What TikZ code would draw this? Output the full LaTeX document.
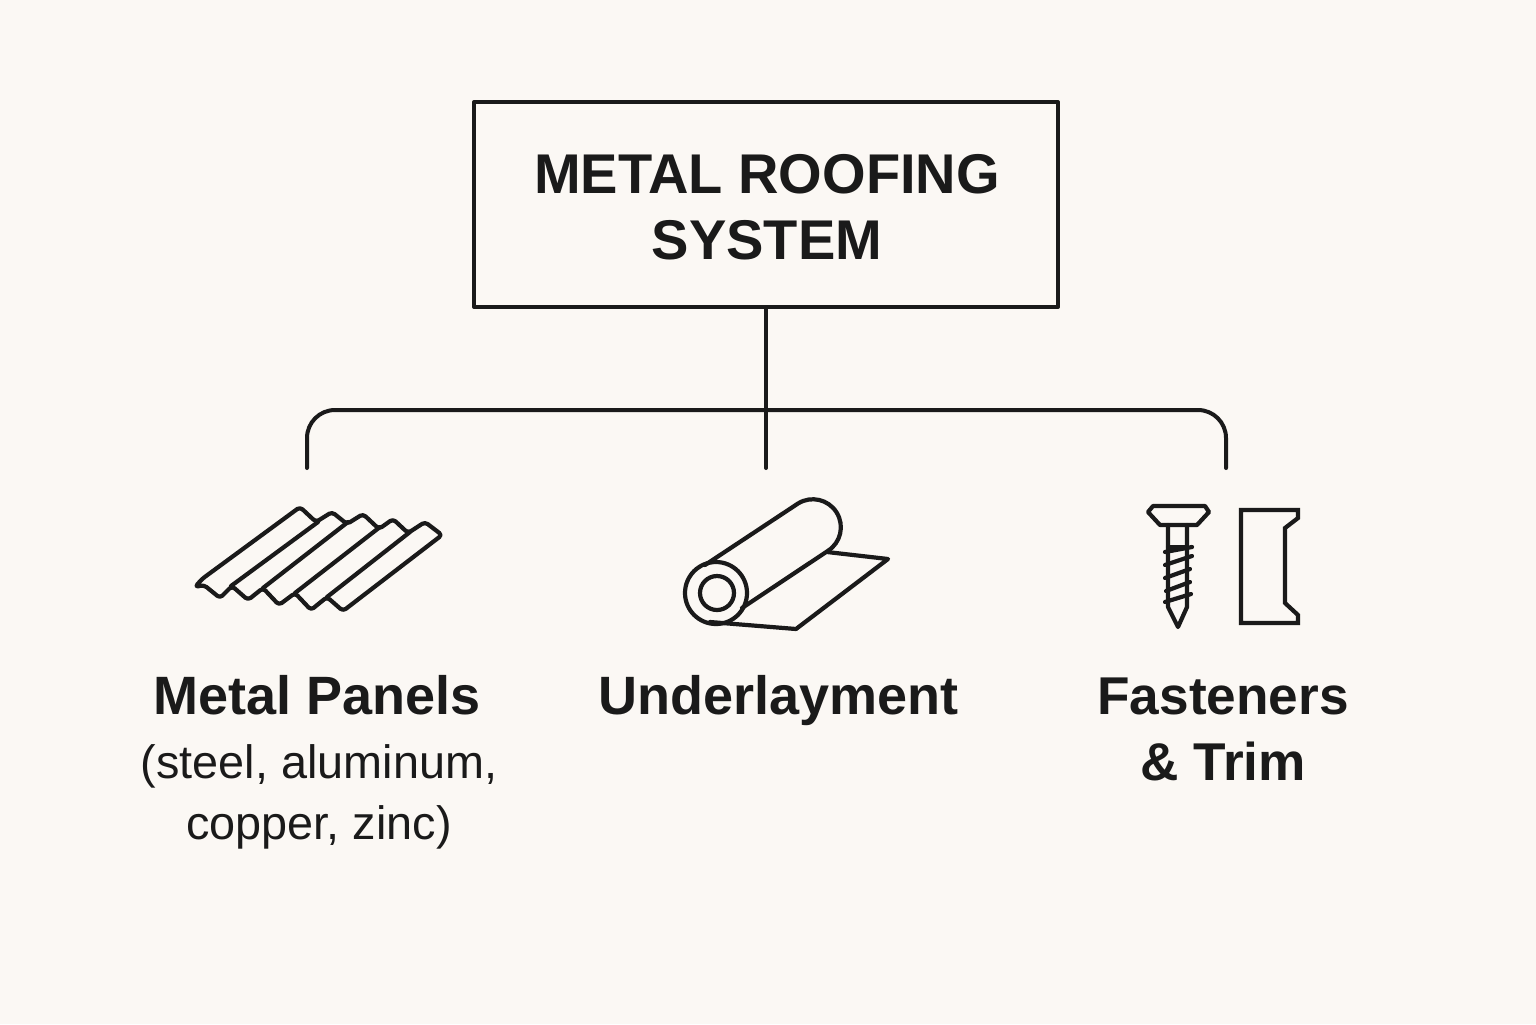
\documentclass[tikz,border=0pt]{standalone}
\usepackage{fontspec}
\setmainfont{Liberation Sans}
\definecolor{bg}{HTML}{FBF8F4}
\definecolor{ink}{HTML}{1A1A1A}
\tikzset{
  ln/.style={draw=ink,line width=2pt,line join=round,line cap=round},
  icon/.style={draw=ink,line width=2.1pt,line join=round,line cap=round},
  lab/.style={text=ink,font=\fontsize{27}{33}\selectfont\bfseries,align=center,inner sep=0pt},
  sub/.style={text=ink,font=\fontsize{23.4}{30.5}\selectfont,align=center,inner sep=0pt}
}
\begin{document}
\begin{tikzpicture}[x=0.5pt,y=-0.5pt]
\fill[bg] (0,0) rectangle (1536,1024);
\useasboundingbox (0,0) rectangle (1536,1024);
% top box
\node[ln,draw,minimum width=292pt,minimum height=102.5pt,inner sep=0pt,line cap=butt] (top) at (766,204.5) {};
\node[lab,font=\fontsize{28}{33}\selectfont\bfseries] (title) at (767,207) {METAL ROOFING\\SYSTEM};
% connectors
\coordinate (leftend) at (307,468);
\coordinate (midend) at (766,468);
\coordinate (rightend) at (1226,468);
\coordinate (junction) at (766,410);
\draw[ln] (top.south) -- (midend);
\draw[ln,rounded corners=14pt] (leftend) |- (junction) -| (rightend);
% panels icon
\draw[icon,rounded corners=1.7pt] (195,587) -- (202,579) -- (300,507) -- (316,522) -- (332,512) -- (347,524) -- (363,514) -- (379,529) -- (393,519) -- (408,533) -- (425,522) -- (442,535) -- (343,611) -- (327,597) -- (311,610) -- (295,593) -- (279,605) -- (263,588) -- (248,600) -- (232,586) -- (220,598) -- (204,585) -- cycle;
\draw[icon] (231,586) -- (318,522);
\draw[icon] (263,588) -- (348,522);
\draw[icon] (295,593) -- (380,527);
\draw[icon] (327,597) -- (410,532);
% roll icon
\draw[icon] (827,552) -- (888,559) -- (796,629) -- (710,622);
\draw[icon] (705,565) -- (798,503.5) arc[start angle=-122,end angle=58,radius=28] -- (742,608);
\draw[icon] (716,593) circle[radius=31];
\draw[icon] (717,593) circle[radius=17];
% screw icon
\draw[icon] (1148,512) -- (1153,506) -- (1205,506) -- (1209,512) -- (1197,525) -- (1160,525) -- cycle;
\draw[icon] (1168,525) -- (1168,607) -- (1178,627) -- (1187,607) -- (1187,525);
\draw[icon] (1168,547) -- (1187,547);
\draw[icon] (1165,552) -- (1192,547);
\draw[icon] (1165,565) -- (1192,556);
\draw[icon] (1165,578) -- (1190,569);
\draw[icon] (1166,591) -- (1190,582);
\draw[icon] (1165,602) -- (1191,594);
% trim icon
\draw[icon,line join=miter] (1241,510) -- (1298,510) -- (1298,518) -- (1285,528) -- (1285,603) -- (1298,615) -- (1298,623) -- (1241,623) -- cycle;
% labels
\node[lab] (panels) at (317,695) {Metal Panels};
\node[sub] (panelsub) at (319,797) {(steel, aluminum,\\copper, zinc)};
\node[lab] (under) at (778.5,701) {Underlayment};
\node[lab,font=\fontsize{26.6}{33}\selectfont\bfseries] (fast) at (1223,729) {Fasteners\\\& Trim};
\end{tikzpicture}
\end{document}
